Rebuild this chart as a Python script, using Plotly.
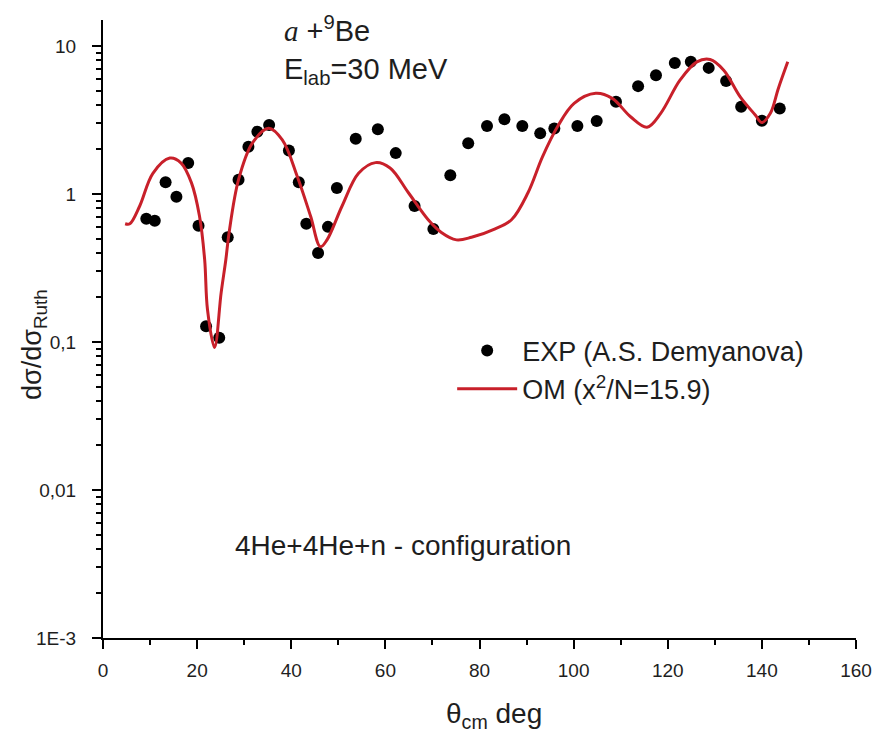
import plotly.graph_objects as go

# Experimental data (A.S. Demyanova)
exp_theta = [9.2, 11.0, 13.3, 15.6, 18.1, 20.3, 21.9, 24.7, 26.5, 28.8, 30.9, 32.8, 35.3,
             39.5, 41.6, 43.2, 45.7, 47.8, 49.7, 53.7, 58.4, 62.2, 66.2, 70.2, 73.8,
             77.6, 81.6, 85.3, 89.1, 92.9, 95.9, 100.8, 104.9, 109.0, 113.7, 117.5,
             121.5, 124.9, 128.7, 132.4, 135.6, 140.0, 143.8]
exp_sigma = [0.68, 0.66, 1.20, 0.96, 1.62, 0.61, 0.128, 0.107, 0.51, 1.25, 2.09, 2.64, 2.93,
             1.97, 1.20, 0.63, 0.40, 0.60, 1.10, 2.36, 2.74, 1.89, 0.83, 0.58, 1.34,
             2.20, 2.88, 3.20, 2.88, 2.57, 2.77, 2.88, 3.12, 4.20, 5.36, 6.35,
             7.69, 7.82, 7.12, 5.80, 3.89, 3.13, 3.79]

# Optical model curve
om_theta = [4.7, 5.7, 7.8, 10.6, 14.2, 16.6, 18.8, 20.5, 21.6, 22.2, 23.7, 25.1, 26.1, 26.8,
            28.8, 31.7, 35.2, 38.1, 41.3, 44.1, 46.2, 47.6, 50.8, 54.3, 57.9, 61.0, 64.9,
            69.1, 71.9, 75.1, 78.3, 83.2, 86.8, 90.3, 93.4, 96.6, 100.1, 104.7, 108.2,
            112.1, 115.6, 118.5, 122.6, 126.2, 129.0, 131.9, 135.4, 138.6, 140.0, 141.8,
            143.5, 145.5]
om_sigma = [0.63, 0.63, 0.83, 1.38, 1.75, 1.62, 1.19, 0.71, 0.36, 0.166, 0.092, 0.215, 0.36, 0.55,
            1.25, 2.20, 2.78, 2.32, 1.31, 0.71, 0.44, 0.49, 0.83, 1.38, 1.63, 1.50, 1.02,
            0.67, 0.55, 0.49, 0.51, 0.58, 0.67, 1.02, 1.79, 2.86, 4.10, 4.79, 4.43,
            3.33, 2.83, 3.51, 5.88, 7.82, 8.11, 6.87, 4.54, 3.42, 3.04, 3.51,
            5.17, 7.82]

y_tickvals = [0.001, 0.01, 0.1, 1, 10]
y_ticktext = ["1E-3", "0,01", "0,1", "1", "10"]
x_tickvals = [0, 20, 40, 60, 80, 100, 120, 140, 160]
x_minorvals = [10, 30, 50, 70, 90, 110, 130, 150]
y_minorvals = [m * 10.0 ** e for e in range(-3, 1) for m in range(2, 10)]

FONT = "Liberation Sans, Arial, sans-serif"
TXT = "#1e1e1e"

fig = go.Figure()
fig.add_trace(go.Scatter(
    x=exp_theta, y=exp_sigma, mode="markers",
    marker=dict(color="black", size=12),
    name="EXP (A.S. Demyanova)", legendgroup="a",
))
fig.add_trace(go.Scatter(
    x=om_theta, y=om_sigma, mode="lines", line_shape="spline",
    line=dict(color="#c8202a", width=3),
    name="OM (x<sup>2</sup>/N=15.9)", legendgroup="b",
))

fig.update_layout(
    width=884, height=744,
    margin=dict(l=103, r=24, t=20, b=106),
    paper_bgcolor="white", plot_bgcolor="white",
    font=dict(family=FONT, color=TXT, size=19),
    showlegend=True,
    legend=dict(x=0.4637, y=0.504, xanchor="left", yanchor="top",
                font=dict(size=27, color=TXT), bgcolor="rgba(0,0,0,0)",
                tracegroupgap=0, traceorder="grouped", itemwidth=60),
    xaxis=dict(range=[0, 160], tickvals=x_tickvals, showline=True, linecolor="black",
               linewidth=2, ticks="outside", ticklen=9, tickwidth=1.5, tickcolor="black",
               showgrid=False, zeroline=False, ticklabelstandoff=5,
               minor=dict(tickmode="array", tickvals=x_minorvals, ticks="outside", ticklen=5,
                          tickwidth=1.5, tickcolor="black", showgrid=False),
               tickfont=dict(size=19, color=TXT)),
    yaxis=dict(type="log", range=[-3, 1.176], tickvals=y_tickvals, ticktext=y_ticktext,
               showline=True, linecolor="black", linewidth=2, ticks="outside", ticklen=9,
               tickwidth=1.5, tickcolor="black", showgrid=False, zeroline=False,
               ticklabelstandoff=12,
               minor=dict(tickmode="array", tickvals=y_minorvals, ticks="outside", ticklen=5,
                          tickwidth=1.5, tickcolor="black", showgrid=False),
               tickfont=dict(size=19, color=TXT)),
    annotations=[
        dict(xref="paper", yref="paper", x=0.238, y=0.986, xanchor="left", yanchor="middle",
             showarrow=False, font=dict(size=29, color=TXT),
             text="<span style='font-family:Liberation Serif'><i>a</i></span> +<sup>9</sup>Be"),
        dict(xref="paper", yref="paper", x=0.238, y=0.918, xanchor="left", yanchor="middle",
             showarrow=False, font=dict(size=29, color=TXT),
             text="E<sub>lab</sub>=30 MeV"),
        dict(xref="paper", yref="paper", x=0.172, y=0.150, xanchor="left", yanchor="middle",
             showarrow=False, font=dict(size=28, color=TXT),
             text="4He+4He+n - configuration"),
        dict(xref="paper", yref="paper", x=0.519, y=-0.126, xanchor="center", yanchor="middle",
             showarrow=False, font=dict(size=28, color=TXT),
             text="θ<sub>cm</sub> deg"),
        dict(xref="paper", yref="paper", x=-0.091, y=0.475, xanchor="center", yanchor="middle",
             showarrow=False, font=dict(size=27, color=TXT), textangle=-90,
             text="dσ/dσ<sub>Ruth</sub>"),
    ],
)

fig.write_html("out.html")
